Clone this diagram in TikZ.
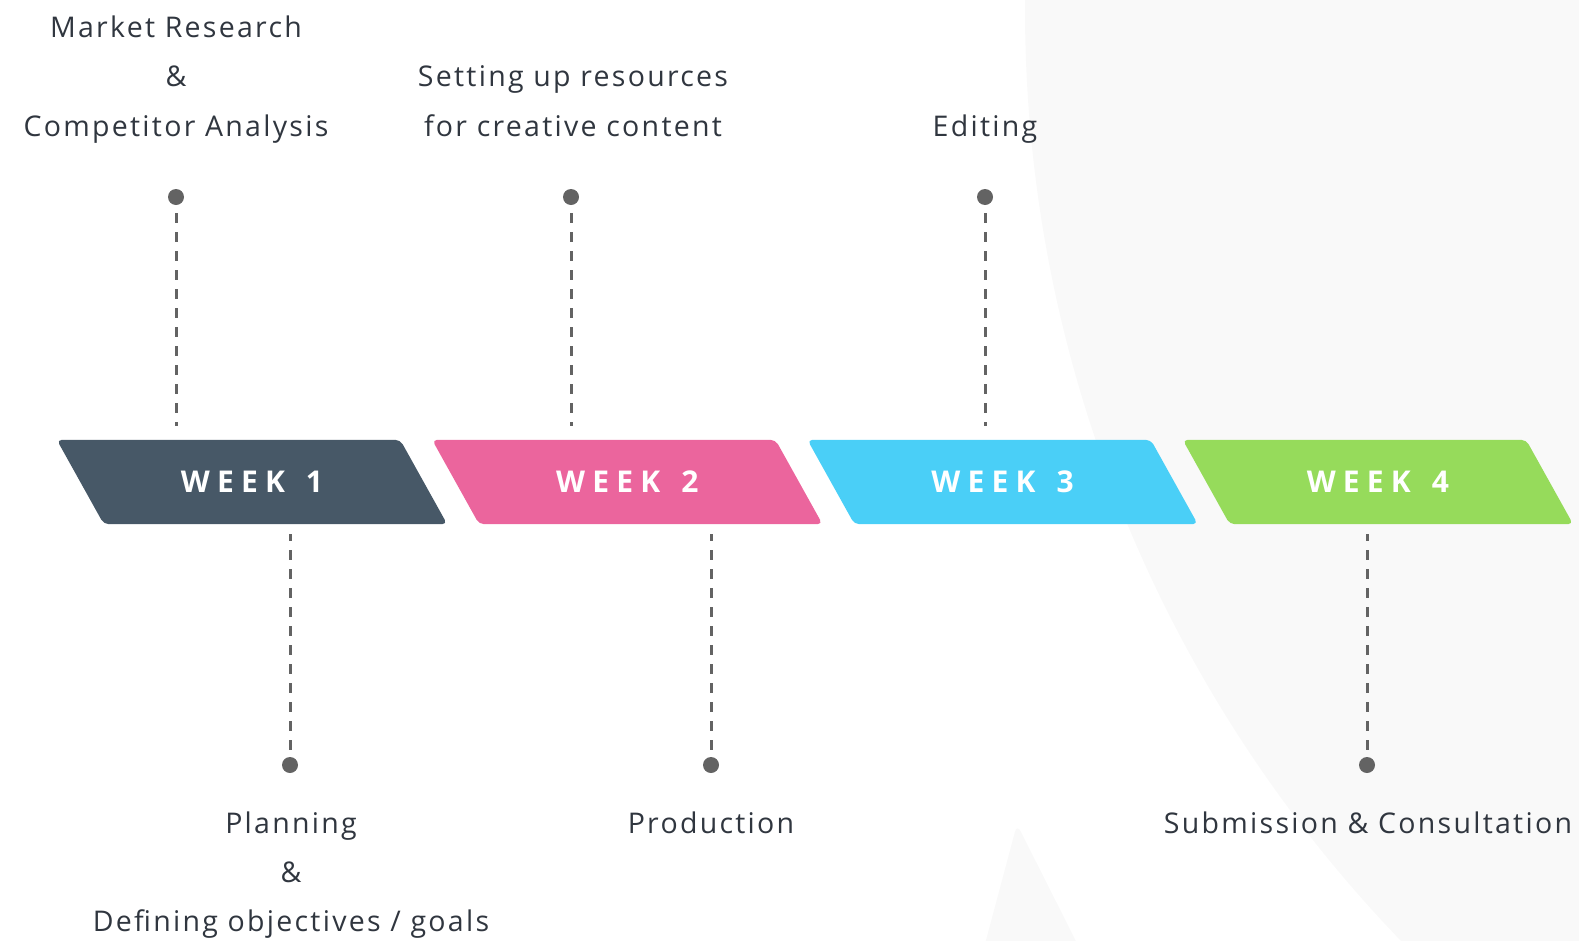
\documentclass[tikz,border=0pt]{standalone}
\usepackage{fontspec}
\setmainfont{Open Sans}
\newfontfamily\labelfont{Open Sans}[LetterSpace=8]
\newfontfamily\weekfont{Open Sans}[LetterSpace=24]
\usetikzlibrary{backgrounds}

\definecolor{bggray}{HTML}{F9F9F9}
\definecolor{textdark}{HTML}{30363F}
\definecolor{dotgray}{HTML}{636363}
\definecolor{weekslate}{HTML}{475867}
\definecolor{weekpink}{HTML}{EB659D}
\definecolor{weekcyan}{HTML}{4ACFF7}
\definecolor{weekgreen}{HTML}{96DB5B}

\begin{document}
\begin{tikzpicture}[x=1pt, y=-1pt, node distance=375.3pt]
  % Define block styles
  \tikzstyle{week} = [rectangle, minimum width=343pt, minimum height=84pt, inner sep=0pt,
    text=white, font=\weekfont\bfseries\fontsize{30}{36}\selectfont]
  \tikzstyle{task} = [align=center, inner sep=0pt, anchor=base, text=textdark,
    font=\labelfont\fontsize{28.5}{49.2}\selectfont]
  \tikzstyle{dot} = [circle, fill=dotgray, inner sep=0pt, minimum size=16pt]
  \tikzstyle{line} = [draw=dotgray, line width=3pt, dash pattern=on 10pt off 9pt]

  \useasboundingbox (0,0) rectangle (1579,940);

  % Place blocks
  \node [week] (week1) at (252,482) {WEEK\hspace{6pt} 1};
  \node [week, right of=week1] (week2) {WEEK\hspace{6pt} 2};
  \node [week, right of=week2] (week3) {WEEK\hspace{6pt} 3};
  \node [week, right of=week3] (week4) {WEEK\hspace{6pt} 4};

  % Background shapes and slanted week bars
  \begin{pgfonlayer}{background}
    \begin{scope}
      \clip (0,0) rectangle (1579,940);
      \fill[bggray] (2368,9) circle (1343pt);
      \fill[bggray, rounded corners=8pt] (974,985) -- (1017,824) -- (1098,985) -- cycle;
    \end{scope}
    \foreach \w/\c in {week1/weekslate, week2/weekpink, week3/weekcyan, week4/weekgreen}
      \fill[\c, rounded corners=5pt]
        ([xshift=-23.5pt]\w.north west) -- ([xshift=-23.5pt]\w.north east)
        -- ([xshift=23.5pt]\w.south east) -- ([xshift=23.5pt]\w.south west) -- cycle;
  \end{pgfonlayer}

  % Milestones (base anchor sits on the last line)
  \node [dot] (research) at (176,197) {};
  \node [dot] (planning) at (290,765) {};
  \node [dot] (resources) at (571,197) {};
  \node [dot] (production) at (711,765) {};
  \node [dot] (editing) at (985,197) {};
  \node [dot] (submission) at (1367,765) {};

  \node [task] (researchtxt) at (176,136) {Market Research\\\&\\Competitor Analysis};
  \node [task] (planningtxt) at (291,931.9) {Planning\\\&\\Defining objectives / goals};
  \node [task] (resourcestxt) at (573,136) {Setting up resources\\for creative content};
  \node [task] (productiontxt) at (711,833.5) {Production};
  \node [task] (editingtxt) at (985,136) {Editing};
  \node [task] (submissiontxt) at (1368,833.5) {Submission \& Consultation};

  % Draw lines
  \path [line, shorten <=8pt, shorten >=14pt] (research) -- (research |- week1.north);
  \path [line, shorten <=8pt, shorten >=14pt] (resources) -- (resources |- week2.north);
  \path [line, shorten <=8pt, shorten >=14pt] (editing) -- (editing |- week3.north);
  \path [line, shorten <=7pt, shorten >=10pt] (planning) -- (planning |- week1.south);
  \path [line, shorten <=7pt, shorten >=10pt] (production) -- (production |- week2.south);
  \path [line, shorten <=7pt, shorten >=10pt] (submission) -- (submission |- week4.south);
\end{tikzpicture}
\end{document}
